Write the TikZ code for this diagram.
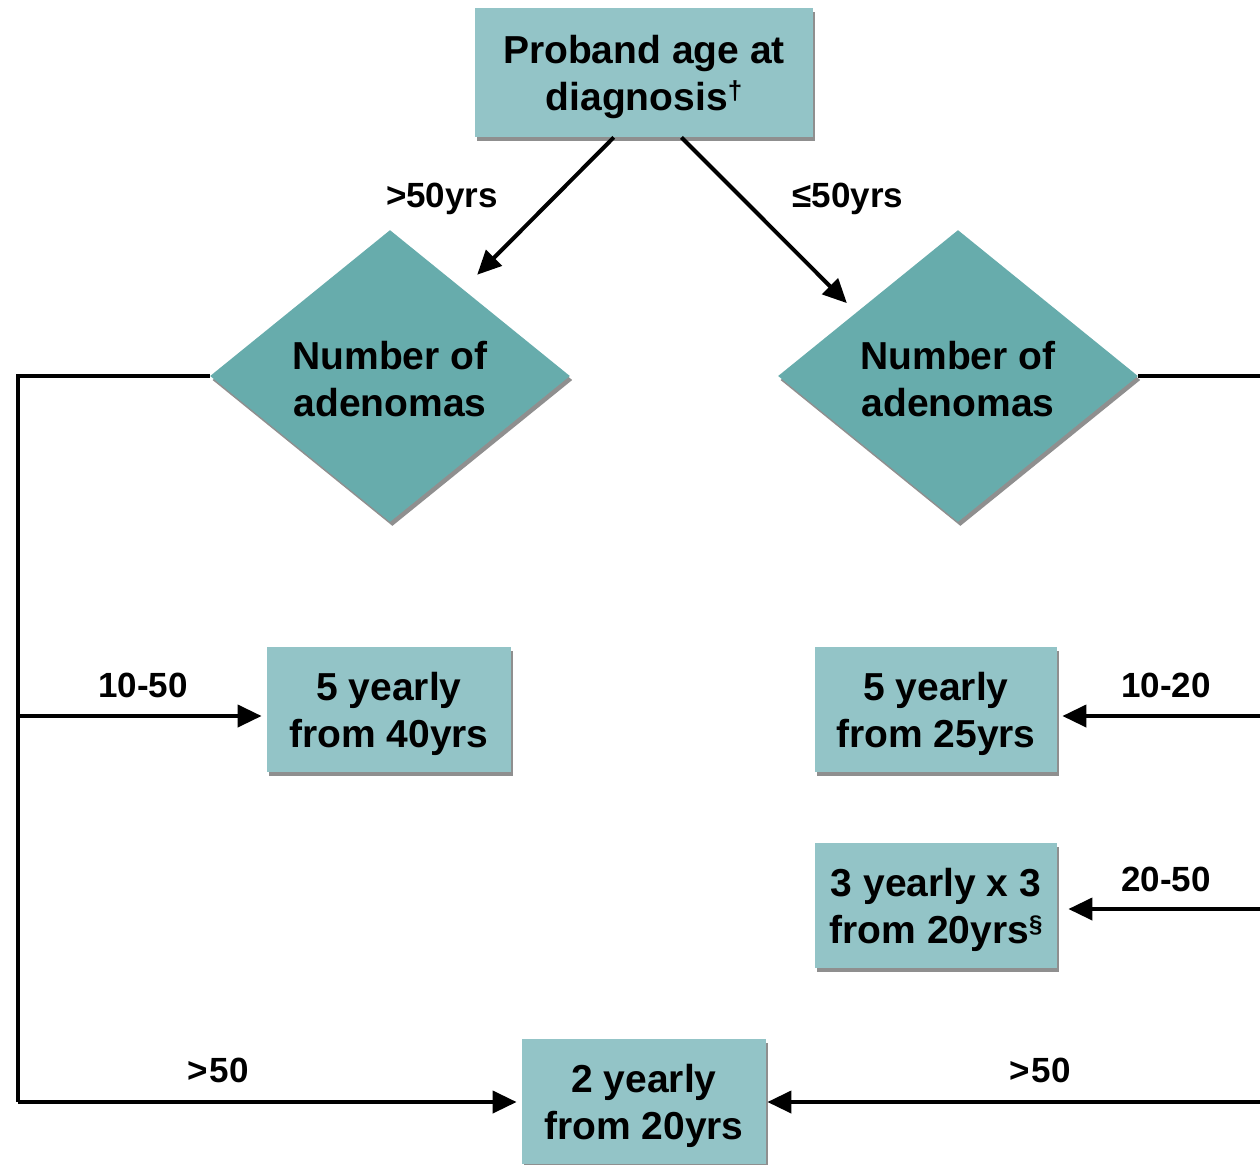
\documentclass[tikz,border=0pt]{standalone}
\usepackage{fontspec}
\setmainfont{Liberation Sans}
\usetikzlibrary{shapes.geometric,shadows,arrows.meta,calc}
\definecolor{boxc}{RGB}{147,196,199}
\definecolor{diac}{RGB}{103,172,172}
\newcommand\dn{\rule{0pt}{19pt}}
\begin{document}
\begin{tikzpicture}[x=0.5pt,y=-0.5pt,
  font=\bfseries\fontsize{19.5}{23.5}\selectfont,
  shad/.style={drop shadow={shadow xshift=1.2pt, shadow yshift=-2pt, opacity=0.55, fill=black!80}},
  box/.style={rectangle, fill=boxc, align=center, inner sep=0pt, shad},
  dia/.style={diamond, fill=diac, align=center, minimum width=180pt, minimum height=146pt, inner sep=0pt, shad},
  lbl/.style={font=\bfseries\fontsize{17.5}{21}\selectfont, inner sep=0pt, anchor=base},
  conn/.style={line width=2pt},
  arr/.style={conn, -{Triangle[length=12pt,width=11pt]}},
]
\useasboundingbox (0,0) rectangle (1260,1164);

% nodes
\node[box, minimum width=169pt, minimum height=64.5pt] (top) at (644,72.5)
  {\dn Proband age at\\diagnosis\raisebox{0.3em}{\fontsize{13}{13}\selectfont †}};
\node[dia] (ldia) at (390,376) {\rule{0pt}{17pt}Number of\\adenomas};
\node[dia] (rdia) at (958,376) {\rule{0pt}{17pt}Number of\\adenomas};
\node[box, minimum width=122pt, minimum height=62.5pt] (b5a) at (389,709.5) {\dn 5 yearly\\from 40yrs};
\node[box, minimum width=121pt, minimum height=62.5pt] (b5b) at (936,709.5) {\dn 5 yearly\\from 25yrs};
\node[box, minimum width=121pt, minimum height=62.5pt] (b3) at (936,905.5)
  {\dn 3 yearly x 3\\from 20yrs\raisebox{0.3em}{\fontsize{12}{12}\selectfont §}};
\node[box, minimum width=122pt, minimum height=62.5pt] (b2) at (644,1101.5) {\dn 2 yearly\\from 20yrs};

% labels
\node[lbl] (l1) at (442,207) {>50yrs};
\node[lbl] (l2) at (848,207) {≤50yrs};
\node[lbl] (l3) at (143,697) {10-50};
\node[lbl] (l4) at (218,1082) {>\kern1pt 50};
\node[lbl] (l5) at (1166,697) {10-20};
\node[lbl] (l6) at (1166,891) {20-50};
\node[lbl] (l7) at (1040,1082) {>\kern1pt 50};

% coordinates
\coordinate (LT) at (18,376);
\coordinate (LM) at (18,716);
\coordinate (LB) at (18,1102);
\coordinate (RT) at (1262,376);
\coordinate (R1) at (1262,716);
\coordinate (R2) at (1262,909);
\coordinate (R3) at (1262,1102);

% connectors
\draw[arr, shorten >=10pt] (top.245) -- (ldia.50);
\draw[arr, shorten >=6.5pt] (top.300.5) -- (rdia.148);
\draw[conn] (ldia.west) -- (LT) -- (LB);
\draw[conn] (rdia.east) -- (RT);
\draw[arr, shorten >=2.5pt] (LM) -- (LM -| b5a.west);
\draw[arr, shorten >=2.5pt] (LB) -- (LB -| b2.west);
\draw[arr, shorten >=2.5pt] (R1) -- (R1 -| b5b.east);
\draw[arr, shorten >=5.5pt] (R2) -- (R2 -| b3.east);
\draw[arr, shorten >=0.5pt] (R3) -- (R3 -| b2.east);
\end{tikzpicture}
\end{document}
